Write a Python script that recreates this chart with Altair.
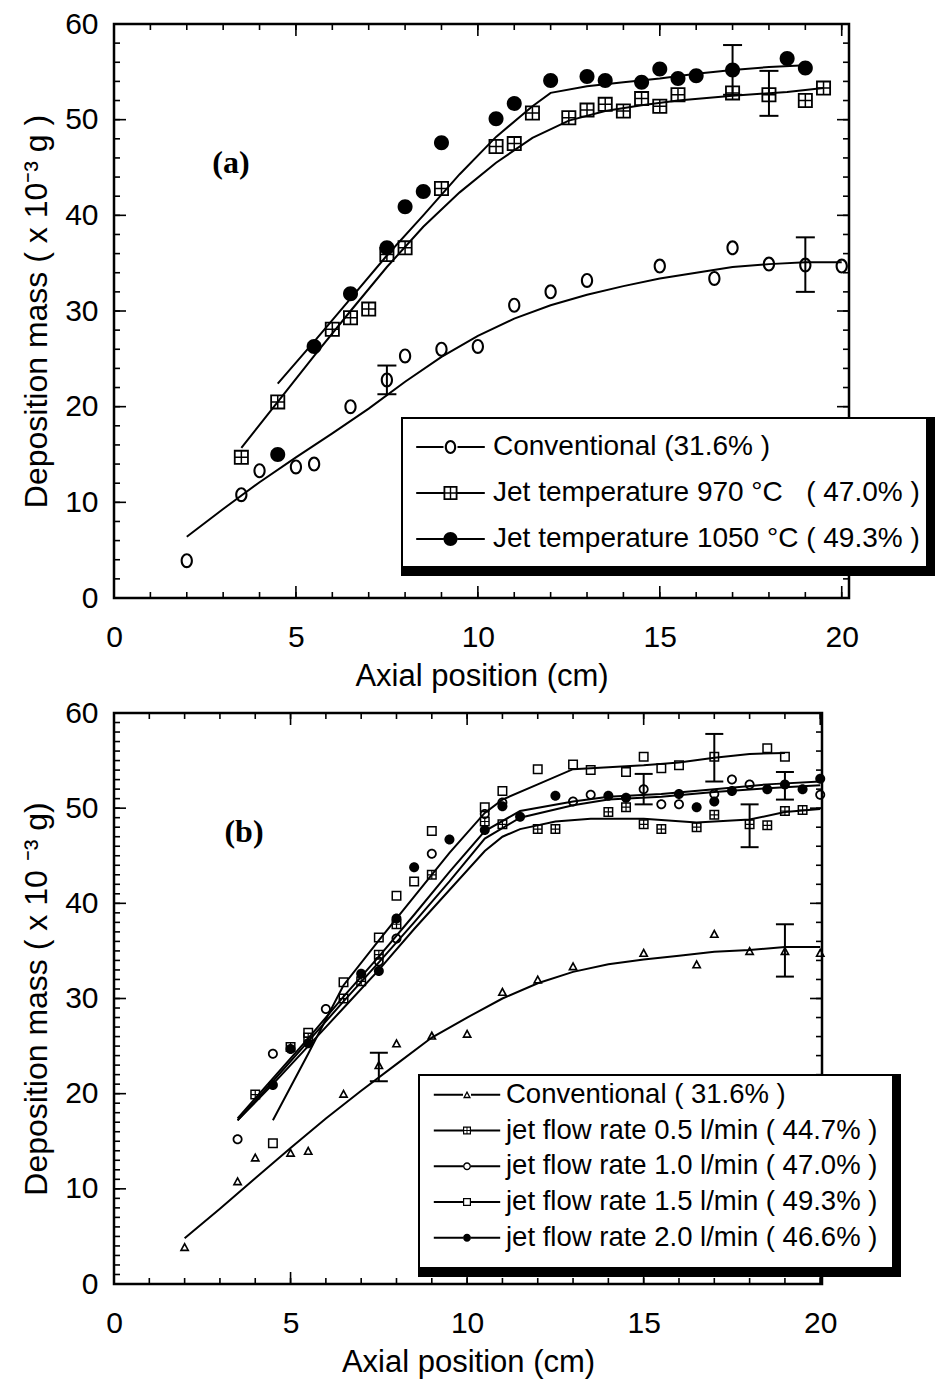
import altair as alt
import pandas as pd

FONT = "Liberation Sans"

# ---------------- Panel (a): measured points ----------------
a_conv_x = [2, 3.5, 4, 5, 5.5, 6.5, 7.5, 8, 9, 10, 11, 12, 13, 15, 16.5, 17, 18, 19, 20]
a_conv_y = [3.9, 10.8, 13.3, 13.7, 14.0, 20.0, 22.8, 25.3, 26.0, 26.3, 30.6, 32.0, 33.2, 34.7, 33.4, 36.6, 34.9, 34.8, 34.7]
a_t970_x = [3.5, 4.5, 6, 6.5, 7, 7.5, 8, 9, 10.5, 11, 11.5, 12.5, 13, 13.5, 14, 14.5, 15, 15.5, 17, 18, 19, 19.5]
a_t970_y = [14.7, 20.5, 28.1, 29.3, 30.2, 35.9, 36.6, 42.8, 47.2, 47.5, 50.7, 50.2, 51.0, 51.6, 50.9, 52.2, 51.4, 52.6, 52.8, 52.6, 52.0, 53.3]
a_t1050_x = [4.5, 5.5, 6.5, 7.5, 8, 8.5, 9, 10.5, 11, 12, 13, 13.5, 14.5, 15, 15.5, 16, 17, 18.5, 19]
a_t1050_y = [15.0, 26.3, 31.8, 36.6, 40.9, 42.5, 47.6, 50.1, 51.7, 54.1, 54.5, 54.1, 53.9, 55.3, 54.3, 54.6, 55.2, 56.4, 55.4]

# fitted curves (a)
a_fit_conv_x = [2, 3, 4, 5, 6, 7, 8, 9, 10, 11, 12, 13, 14, 15, 16, 17, 18, 19, 20]
a_fit_conv_y = [6.4, 9.3, 12.1, 14.7, 17.2, 19.8, 22.6, 25.2, 27.4, 29.2, 30.6, 31.7, 32.6, 33.4, 34.0, 34.6, 34.9, 35.1, 35.1]
a_fit_t970_x = [3.5, 4.5, 5.5, 6.5, 7.5, 8.5, 9.5, 10.5, 11.5, 12.5, 13.5, 14.5, 15.5, 17, 18.5, 19.5]
a_fit_t970_y = [15.7, 20.5, 25.3, 30.0, 34.6, 38.8, 42.4, 45.5, 48.1, 49.9, 50.9, 51.5, 52.0, 52.5, 52.9, 53.3]
a_fit_t1050_x = [4.5, 5.5, 6.5, 7.5, 8.5, 9.5, 10.5, 11.5, 12, 13, 14, 15, 16, 17, 18, 19]
a_fit_t1050_y = [22.4, 26.8, 31.3, 35.8, 40.0, 44.3, 48.2, 51.4, 52.8, 53.5, 53.9, 54.3, 54.8, 55.2, 55.5, 55.7]

# error bars (a)
a_err_x = [7.5, 19, 18, 17]
a_err_lo = [21.3, 32.0, 50.4, 52.6]
a_err_hi = [24.3, 37.7, 55.1, 57.8]

a_series = ["conv", "t970", "t1050"]
a_labels = ["Conventional (31.6% )",
            "Jet temperature 970 °C\u00a0\u00a0\u00a0( 47.0% )",
            "Jet temperature 1050 °C ( 49.3% )"]

# ---------------- Panel (b): measured points ----------------
b_conv_x = [2, 3.5, 4, 5, 5.5, 6.5, 7.5, 8, 9, 10, 11, 12, 13, 15, 16.5, 17, 18, 19, 20]
b_conv_y = [3.9, 10.8, 13.3, 13.8, 14.0, 20.0, 23.0, 25.3, 26.1, 26.3, 30.7, 32.0, 33.4, 34.8, 33.6, 36.8, 35.0, 35.0, 34.8]
b_f05_x = [4, 5, 5.5, 6.5, 7, 7.5, 8, 9, 10.5, 11, 12, 12.5, 14, 14.5, 15, 15.5, 16.5, 17, 18, 18.5, 19, 19.5]
b_f05_y = [19.9, 24.9, 25.9, 30.0, 31.8, 34.6, 37.8, 43.0, 48.6, 48.3, 47.8, 47.8, 49.6, 50.1, 48.3, 47.8, 48.0, 49.3, 48.3, 48.2, 49.7, 49.8]
b_f10_x = [3.5, 4.5, 6, 7.5, 8, 9, 10.5, 11, 13, 13.5, 15, 15.5, 16, 17, 17.5, 18, 20]
b_f10_y = [15.2, 24.2, 28.9, 33.9, 36.3, 45.2, 49.4, 50.6, 50.7, 51.4, 52.0, 50.4, 50.4, 51.5, 53.0, 52.5, 51.4]
b_f15_x = [4.5, 5.5, 6.5, 7.5, 8, 8.5, 9, 10.5, 11, 12, 13, 13.5, 14.5, 15, 15.5, 16, 17, 18.5, 19]
b_f15_y = [14.8, 26.4, 31.7, 36.4, 40.8, 42.3, 47.6, 50.1, 51.8, 54.1, 54.6, 54.0, 53.8, 55.4, 54.2, 54.5, 55.4, 56.3, 55.4]
b_f20_x = [4.5, 5, 5.5, 7, 7.5, 8, 8.5, 9.5, 10.5, 11, 11.5, 12.5, 14, 14.5, 16, 16.5, 17, 17.5, 18.5, 19, 19.5, 20]
b_f20_y = [20.9, 24.7, 25.3, 32.6, 32.9, 38.4, 43.8, 46.7, 47.7, 50.2, 49.1, 51.3, 51.3, 51.1, 51.5, 50.1, 50.7, 51.8, 52.0, 52.5, 52.0, 53.1]

# fitted curves (b)
b_fit_conv_x = [2, 3, 4, 5, 6, 7, 8, 9, 10, 11, 12, 13, 14, 15, 16, 17, 18, 19, 20]
b_fit_conv_y = [4.8, 7.9, 11.1, 14.3, 17.4, 20.3, 23.1, 25.9, 28.0, 30.0, 31.6, 32.8, 33.6, 34.1, 34.5, 34.9, 35.1, 35.4, 35.4]
b_fit_f05_x = [3.5, 4.5, 5.5, 6.5, 7.5, 8.5, 9.5, 10.5, 11, 11.5, 12.5, 13.5, 15, 16.5, 18, 19, 20]
b_fit_f05_y = [17.2, 21.0, 25.0, 29.0, 33.0, 37.3, 41.4, 45.5, 47.0, 47.8, 48.6, 48.9, 48.9, 48.5, 48.8, 49.6, 49.9]
b_fit_f10_x = [3.5, 4.5, 5.5, 6.5, 7.5, 8.5, 9.5, 10.5, 11.5, 13, 14, 15.5, 17, 18.5, 20]
b_fit_f10_y = [17.2, 21.3, 25.5, 29.7, 33.8, 38.0, 42.3, 46.8, 49.0, 50.3, 50.9, 51.2, 51.7, 52.1, 52.4]
b_fit_f15_x = [4.5, 5.5, 6.5, 7.5, 8.5, 9.5, 10.5, 11, 12, 13, 14, 15, 16, 17, 18, 19]
b_fit_f15_y = [17.2, 24.2, 31.4, 36.1, 40.7, 45.3, 49.5, 50.9, 52.5, 54.1, 54.3, 54.5, 54.8, 55.3, 55.7, 55.8]
b_fit_f20_x = [3.5, 4.5, 5.5, 6.5, 7.5, 8.5, 9.5, 10.5, 11.5, 13, 14, 15.5, 17, 18.5, 20]
b_fit_f20_y = [17.4, 21.6, 25.8, 30.2, 34.4, 38.8, 43.3, 47.6, 49.7, 50.7, 51.2, 51.5, 52.0, 52.5, 52.8]

# error bars (b)
b_err_x = [7.5, 19, 17, 15, 18, 19]
b_err_lo = [21.3, 32.3, 52.8, 50.4, 45.9, 50.9]
b_err_hi = [24.3, 37.8, 57.8, 53.6, 50.4, 53.8]

b_series = ["conv", "f05", "f10", "f15", "f20"]
b_labels = ["Conventional ( 31.6% )",
            "jet flow rate 0.5 l/min ( 44.7% )",
            "jet flow rate 1.0 l/min ( 47.0% )",
            "jet flow rate 1.5 l/min ( 49.3% )",
            "jet flow rate 2.0 l/min ( 46.6% )"]

# axis tick values
x_major_ticks = [0, 5, 10, 15, 20]
x_minor_ticks = list(range(0, 21))
y_major_ticks = [0, 10, 20, 30, 40, 50, 60]
y_minor_every2 = list(range(0, 61, 2))
y_minor_every1 = list(range(0, 61, 1))


# ---------------- marker paths (unit square -1..1) ----------------
def f(v):
    return ("%.3f" % v).rstrip("0").rstrip(".")


def ellipse(rx, ry, sweep):
    return (f"M{f(rx)},0A{f(rx)},{f(ry)} 0 1,{sweep} {f(-rx)},0"
            f"A{f(rx)},{f(ry)} 0 1,{sweep} {f(rx)},0Z")


def ring(rx, ry, t):
    return ellipse(rx, ry, 0) + " " + ellipse(rx - t, ry - t, 1)


def disc(r=1.0):
    return ellipse(r, r, 1)


def rect_cw(x0, y0, x1, y1):
    return f"M{f(x0)},{f(y0)}H{f(x1)}V{f(y1)}H{f(x0)}Z"


def rect_ccw(x0, y0, x1, y1):
    return f"M{f(x0)},{f(y0)}V{f(y1)}H{f(x1)}V{f(y0)}Z"


def open_square(b):
    return rect_cw(-1, -1, 1, 1) + " " + rect_ccw(-1 + b, -1 + b, 1 - b, 1 - b)


def cross_square(b, c):
    p = rect_cw(-1, -1, 1, 1)
    for (x0, x1) in [(-1 + b, -c), (c, 1 - b)]:
        for (y0, y1) in [(-1 + b, -c), (c, 1 - b)]:
            p += " " + rect_ccw(x0, y0, x1, y1)
    return p


def triangle(t):
    outer = "M0,-1L1,0.85L-1,0.85Z"
    inner = f"M0,{f(-1 + 2.2 * t)}L{f(-1 + 1.7 * t)},{f(0.85 - t)}L{f(1 - 1.7 * t)},{f(0.85 - t)}Z"
    return outer + " " + inner


def with_bars(marker, half_len, gap, thick):
    return (marker + " " + rect_cw(-half_len, -thick, -gap, thick)
            + " " + rect_cw(gap, -thick, half_len, thick))


a_paths = [ring(0.82, 1.0, 0.28), cross_square(0.24, 0.1), disc()]
b_paths = [triangle(0.32), cross_square(0.3, 0.12), ring(1.0, 1.0, 0.35), open_square(0.3), disc()]
a_leg_paths = [with_bars(p, 4.9, 1.0, 0.15) for p in [ring(0.82, 1.0, 0.3), cross_square(0.26, 0.1), disc()]]
b_leg_paths = [with_bars(p, 8.3, 1.0, 0.22) for p in b_paths]


def long(xs_list, ys_list, names):
    rows = []
    for xs, ys, n in zip(xs_list, ys_list, names):
        for x, y in zip(xs, ys):
            rows.append({"x": x, "y": y, "series": n})
    return pd.DataFrame(rows)


def panel(pts, fits, errs, series, ppaths, psize, labels, lpaths, lsize, leg,
          width, height, xmax, yl_minor, yr_minor, cap, tag, tag_xy, ytitle,
          hide_xy, box):
    xs = alt.Scale(domain=[0, xmax], nice=False, zero=False)
    ys = alt.Scale(domain=[0, 60], nice=False, zero=False)
    xlab = alt.Axis(orient="bottom", values=x_major_ticks, ticks=False, domain=False,
                    grid=False, labelFont=FONT, labelFontSize=30, labelColor="black",
                    labelPadding=24, labelFlush=False, format="d",
                    title="Axial position (cm)", titleFont=FONT, titleFontSize=31,
                    titleFontWeight="normal", titleColor="black", titlePadding=9)
    ylab = alt.Axis(orient="left", values=y_major_ticks, ticks=False,
                    domain=False, grid=False, labelFont=FONT, labelFontSize=30,
                    labelColor="black", labelPadding=16, format="d", title=ytitle,
                    titleFont=FONT, titleFontSize=32, titleFontWeight="normal",
                    titleColor="black", titlePadding=11)

    one = pd.DataFrame({"k": [0]})
    bx0, by0, bx1, by1 = box
    frame_black = alt.Chart(one).mark_rect(color="black").encode(
        x=alt.value(bx0), x2=alt.value(bx1 + 7), y=alt.value(by0), y2=alt.value(by1 + 8))
    frame_white = alt.Chart(one).mark_rect(color="white").encode(
        x=alt.value(bx0 + 2), x2=alt.value(bx1 - 2), y=alt.value(by0 + 2), y2=alt.value(by1 - 2))

    def xt(vals, y0, y1):
        return alt.Chart(pd.DataFrame({"t": vals})).mark_rule(color="black", strokeWidth=1.6).encode(
            x=alt.X("t:Q", scale=xs, axis=None), y=alt.value(y0), y2=alt.value(y1))

    def yt(vals, x0, x1):
        return alt.Chart(pd.DataFrame({"t": vals})).mark_rule(color="black", strokeWidth=1.6).encode(
            y=alt.Y("t:Q", scale=ys, axis=None), x=alt.value(x0), x2=alt.value(x1))

    ticks = [xt(x_minor_ticks, height, height - 6), xt(x_major_ticks, height, height - 12),
             xt(x_minor_ticks, 0, 6), xt(x_major_ticks, 0, 12),
             yt(yl_minor, 0, 6), yt(y_major_ticks, 0, 12),
             yt(yr_minor, width, width - 6), yt(y_major_ticks, width, width - 12)]

    lines = alt.Chart(fits).mark_line(color="black", strokeWidth=2).encode(
        x=alt.X("x:Q", scale=xs, axis=xlab), y=alt.Y("y:Q", scale=ys, axis=ylab),
        detail="series:N")

    rules = alt.Chart(errs).mark_rule(color="black", strokeWidth=2).encode(
        x=alt.X("x:Q", scale=xs, axis=None), y=alt.Y("lo:Q", scale=ys, axis=None), y2="hi:Q")

    caps = alt.Chart(errs).transform_fold(["lo", "hi"], as_=["end", "v"]).mark_tick(
        orient="horizontal", color="black", size=cap, thickness=2, opacity=1).encode(
        x=alt.X("x:Q", scale=xs, axis=None), y=alt.Y("v:Q", scale=ys, axis=None))

    points = alt.Chart(pts).mark_point(filled=True, opacity=1, color="black", size=psize,
                                       strokeWidth=0).encode(
        x=alt.X("x:Q", scale=xs, axis=None), y=alt.Y("y:Q", scale=ys, axis=None),
        shape=alt.Shape("series:N", scale=alt.Scale(domain=series, range=ppaths), legend=None))

    hx, hy = hide_xy
    legdf = pd.DataFrame({"label": labels, "x": [hx] * len(labels), "y": [hy] * len(labels)})
    legend_layer = alt.Chart(legdf).mark_point(filled=True, opacity=1, color="black",
                                               size=lsize, strokeWidth=0).encode(
        x=alt.X("x:Q", scale=xs, axis=None), y=alt.Y("y:Q", scale=ys, axis=None),
        shape=alt.Shape("label:N", scale=alt.Scale(domain=labels, range=lpaths),
                        legend=alt.Legend(**leg)))

    tag_l = alt.Chart(one).mark_text(font="Liberation Serif", fontSize=32, fontWeight="bold",
                                     color="black", align="center", baseline="middle").encode(
        x=alt.value(tag_xy[0]), y=alt.value(tag_xy[1]), text=alt.value(tag))

    layers = ticks + [lines, rules, caps, points, frame_black, legend_layer, frame_white, tag_l]
    return alt.layer(*layers).resolve_scale(shape="independent").resolve_axis(
        x="independent", y="independent").properties(width=width, height=height)


a_pts = long([a_conv_x, a_t970_x, a_t1050_x], [a_conv_y, a_t970_y, a_t1050_y], a_series)
a_fit = long([a_fit_conv_x, a_fit_t970_x, a_fit_t1050_x],
             [a_fit_conv_y, a_fit_t970_y, a_fit_t1050_y], a_series)
a_err = pd.DataFrame({"x": a_err_x, "lo": a_err_lo, "hi": a_err_hi})

b_pts = long([b_conv_x, b_f05_x, b_f10_x, b_f15_x, b_f20_x],
             [b_conv_y, b_f05_y, b_f10_y, b_f15_y, b_f20_y], b_series)
b_fit = long([b_fit_conv_x, b_fit_f05_x, b_fit_f10_x, b_fit_f15_x, b_fit_f20_x],
             [b_fit_conv_y, b_fit_f05_y, b_fit_f10_y, b_fit_f15_y, b_fit_f20_y], b_series)
b_err = pd.DataFrame({"x": b_err_x, "lo": b_err_lo, "hi": b_err_hi})

common_leg = dict(orient="none", title=None, labelFont=FONT, labelColor="black",
                  labelLimit=1000, symbolFillColor="black", symbolStrokeColor="black",
                  symbolStrokeWidth=0, padding=0)

leg_a = dict(common_leg, legendX=287, legendY=409, labelFontSize=28, symbolSize=196,
             symbolOffset=35.5, labelOffset=28.5, rowPadding=18)
leg_b = dict(common_leg, legendX=304, legendY=368, labelFontSize=27.5, symbolSize=64,
             symbolOffset=35.25, labelOffset=25.25, rowPadding=6.75)

pa = panel(a_pts, a_fit, a_err, a_series, a_paths, 225, a_labels, a_leg_paths, 196, leg_a,
           735, 574, 20.2, y_minor_every2, y_minor_every2, 19, "(a)", (117, 139),
           "Deposition mass ( x 10\u207b\u00b3 g )", (14, 10), (287, 393, 814, 544))
pb = panel(b_pts, b_fit, b_err, b_series, b_paths, 100, b_labels, b_leg_paths, 64, leg_b,
           708, 571, 20.05, y_minor_every1, y_minor_every2, 18, "(b)", (130, 119),
           "Deposition mass ( x 10 \u207b\u00b3 g)", (14, 9), (304, 361, 780, 556))

chart = alt.vconcat(pa, pb, spacing=3).configure_view(
    stroke="black", strokeWidth=2.5).properties(
    padding={"left": 19, "top": 7, "right": 0, "bottom": 0}, background="white")

chart.save("out.html", embed_options={"renderer": "svg", "actions": False})
